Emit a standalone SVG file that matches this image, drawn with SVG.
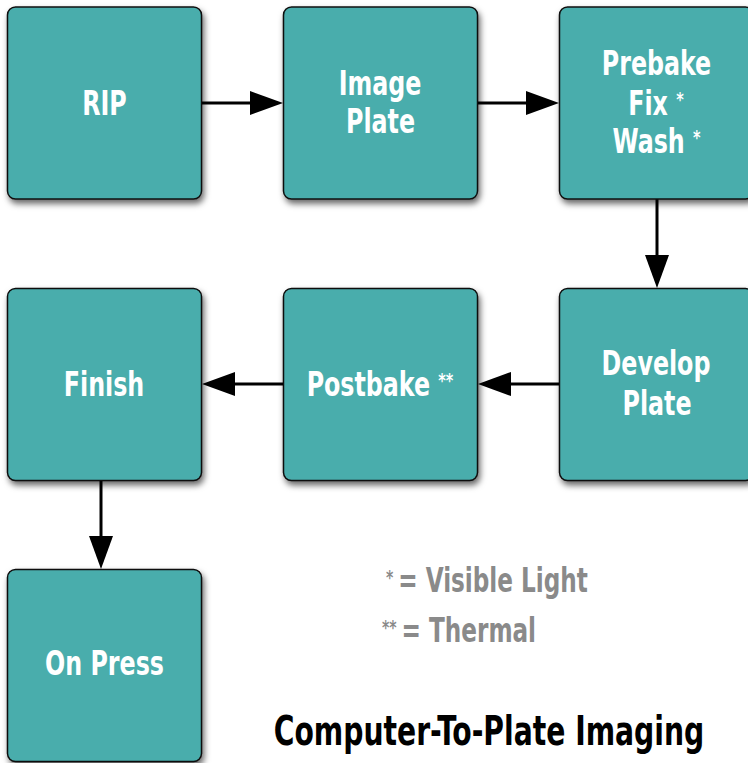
<svg xmlns="http://www.w3.org/2000/svg" width="748" height="763" viewBox="0 0 748 763">
<style>
.box{fill:#4aadac;stroke:#111;stroke-width:1.5;filter:url(#sh)}
.lbl{font-family:"DejaVu Sans Condensed","DejaVu Sans",sans-serif;font-weight:bold;font-size:33px;fill:#fff;text-anchor:middle}
.sup{font-size:20px}
.leg{font-family:"DejaVu Sans Condensed","DejaVu Sans",sans-serif;font-weight:bold;font-size:33px;fill:#8a8a8a}
.ttl{font-family:"DejaVu Sans Condensed","DejaVu Sans",sans-serif;font-weight:bold;font-size:41px;fill:#000;text-anchor:middle}
.con{fill:none;stroke:#000;stroke-width:3;marker-end:url(#ah)}
</style>
<defs>
<filter id="sh" x="-10%" y="-10%" width="125%" height="125%">
<feDropShadow dx="2" dy="4" stdDeviation="3" flood-color="#000" flood-opacity="0.6"/>
</filter>
<marker id="ah" viewBox="0 0 33 24" markerWidth="33" markerHeight="24" refX="23" refY="12" orient="auto" markerUnits="userSpaceOnUse">
<path d="M0,0 L33,12 L0,24 Z" fill="#000"/>
</marker>
</defs>
<rect width="748" height="763" fill="#fff"/>
<g id="connectors">
<path class="con" d="M201,103 L273,103"/>
<path class="con" d="M478,103 L549,103"/>
<path class="con" d="M657,199 L657,278"/>
<path class="con" d="M559,384 L488,384"/>
<path class="con" d="M284,384 L212,384"/>
<path class="con" d="M101,480 L101,559"/>
</g>
<g id="rip">
<rect class="box" x="7.5" y="7" width="194" height="192" rx="8"/>
<text class="lbl" transform="translate(104.5,115) scale(0.8,1)">RIP</text>
</g>
<g id="image-plate">
<rect class="box" x="283.5" y="7" width="194" height="192" rx="8"/>
<text class="lbl" transform="translate(380,95) scale(0.8,1)">Image</text>
<text class="lbl" transform="translate(380.5,133) scale(0.8,1)">Plate</text>
</g>
<g id="prebake">
<rect class="box" x="559.5" y="7" width="194" height="192" rx="8"/>
<text class="lbl" transform="translate(656.5,75) scale(0.8,1)">Prebake</text>
<text class="lbl" transform="translate(656,115) scale(0.8,1)">Fix <tspan class="sup" dy="-9">*</tspan></text>
<text class="lbl" transform="translate(656.5,153) scale(0.8,1)">Wash <tspan class="sup" dy="-9">*</tspan></text>
</g>
<g id="develop-plate">
<rect class="box" x="559.5" y="288.5" width="194" height="192" rx="8"/>
<text class="lbl" transform="translate(656,375) scale(0.8,1)">Develop</text>
<text class="lbl" transform="translate(657,415) scale(0.8,1)">Plate</text>
</g>
<g id="postbake">
<rect class="box" x="283.5" y="288.5" width="194" height="192" rx="8"/>
<text class="lbl" transform="translate(380,396) scale(0.8,1)">Postbake <tspan class="sup" dy="-9">**</tspan></text>
</g>
<g id="finish">
<rect class="box" x="7.5" y="288.5" width="194" height="192" rx="8"/>
<text class="lbl" transform="translate(104,396) scale(0.8,1)">Finish</text>
</g>
<g id="on-press">
<rect class="box" x="7.5" y="569.5" width="194" height="192" rx="8"/>
<text class="lbl" transform="translate(104.5,675) scale(0.8,1)">On Press</text>
</g>
<g id="legend">
<text class="leg" transform="translate(386,592) scale(0.78,1)"><tspan class="sup" dy="-8">*  </tspan><tspan dy="8">= Visible Light</tspan></text>
<text class="leg" transform="translate(382,642) scale(0.78,1)"><tspan class="sup" dy="-8">**  </tspan><tspan dy="8">= Thermal</tspan></text>
</g>
<g id="title">
<text class="ttl" transform="translate(489,745) scale(0.765,1)">Computer-To-Plate Imaging</text>
</g>
</svg>
